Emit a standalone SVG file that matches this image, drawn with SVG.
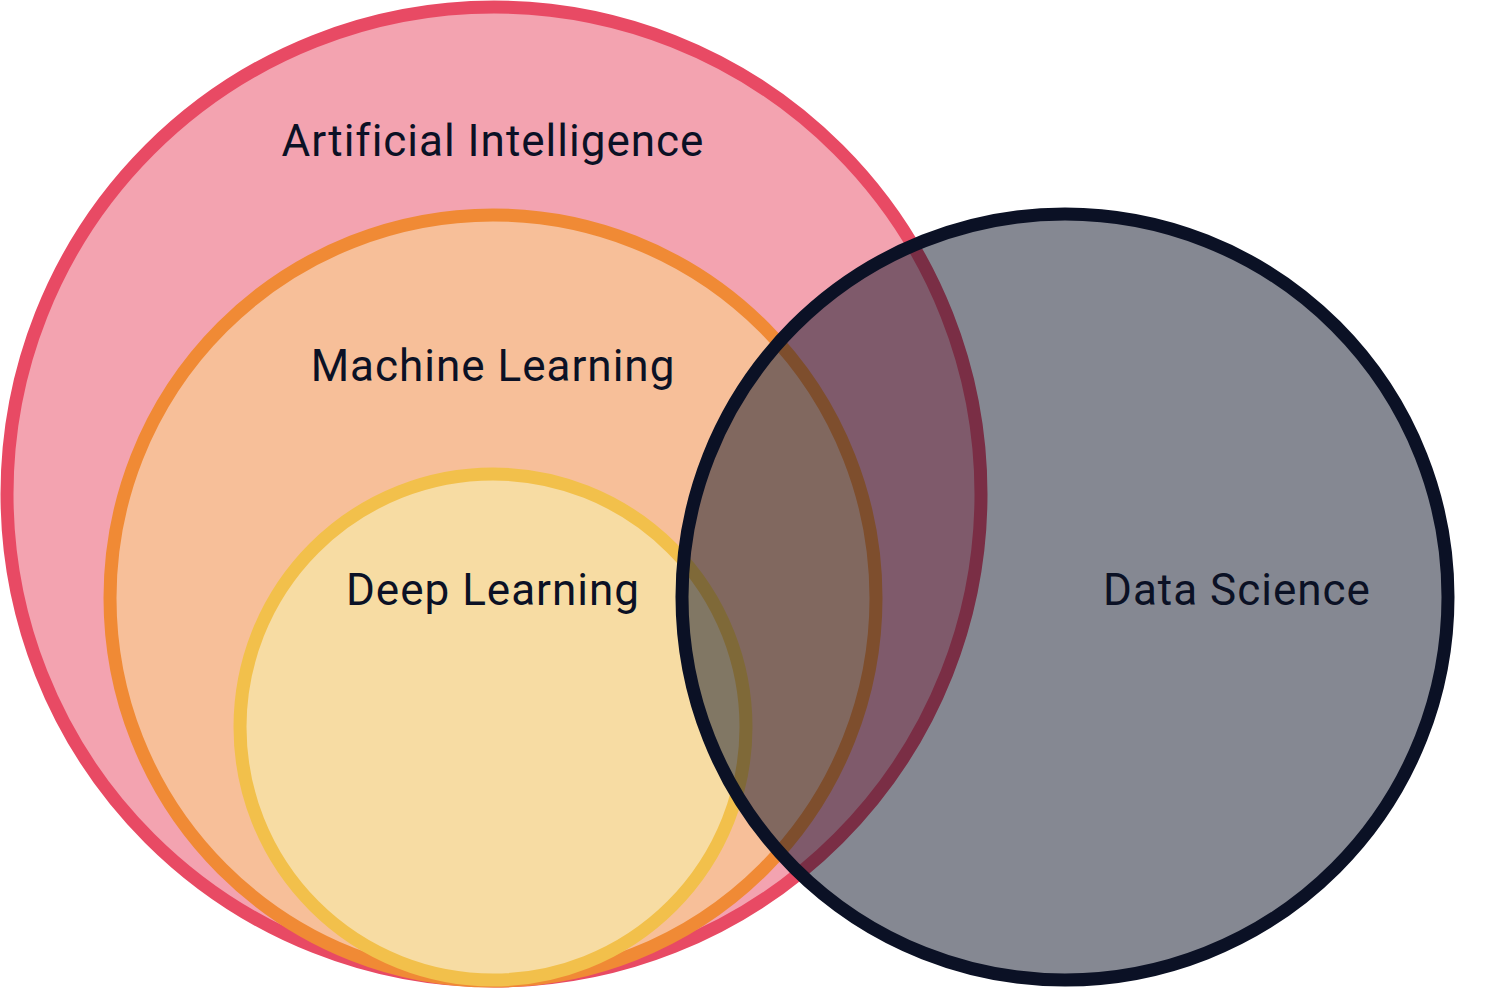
<svg xmlns="http://www.w3.org/2000/svg" width="1500" height="988" viewBox="0 0 1500 988">
<style>
text{font-family:"Roboto","DejaVu Sans",sans-serif;font-size:44px;fill:#0b1125;text-anchor:middle;letter-spacing:1px}
circle{stroke-width:13}
</style>
<rect width="1500" height="988" fill="#fff"/>
<g id="ai"><circle cx="494" cy="494" r="487" fill="#f3a3b0" stroke="#e84a64"/><text x="493" y="156">Artificial Intelligence</text></g>
<g id="ml"><circle cx="493" cy="598" r="383" fill="#f7bf99" stroke="#f08a35"/><text x="493" y="381">Machine Learning</text></g>
<g id="dl"><circle cx="493" cy="727" r="253" fill="#f7dca3" stroke="#f2c04b"/><text x="493" y="605">Deep Learning</text></g>
<g id="ds"><circle cx="1065" cy="597" r="383" fill="#0b1125" fill-opacity="0.5" stroke="#0b1125"/><text x="1237" y="605">Data Science</text></g>
<g id="connectors"/>
</svg>
